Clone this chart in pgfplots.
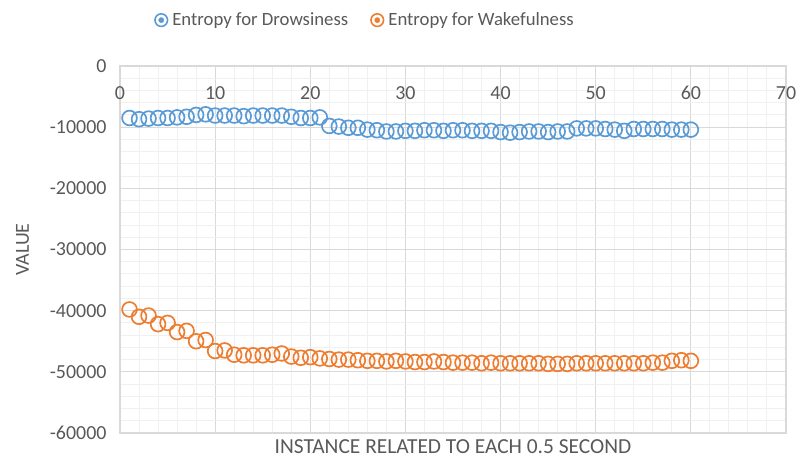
\documentclass[border=0pt]{standalone}
\usepackage{fontspec}
\setmainfont{Carlito}
\usepackage{pgfplots}
\pgfplotsset{compat=1.18}
\definecolor{cblue}{HTML}{5B9BD5}
\definecolor{corange}{HTML}{ED7D31}
\definecolor{txt}{HTML}{595959}
\definecolor{gmaj}{HTML}{D9D9D9}
\definecolor{gmin}{HTML}{F0F0F0}
\begin{document}
\begin{tikzpicture}
\path[use as bounding box] (-120bp,-31bp) rectangle (678bp,433bp);
\begin{axis}[
 at={(0,0)}, anchor=south west,
 scale only axis, width=666bp, height=367bp,
 xmin=0, xmax=70, ymin=-60000, ymax=0,
 xtick={0,10,...,70}, ytick={-60000,-50000,...,0},
 minor x tick num=4, minor y tick num=4,
 grid=both,
 major grid style={gmaj, line width=1.2bp},
 minor grid style={gmin, line width=1bp},
 axis line style={gmaj, line width=1.2bp},
 major tick length=0pt, minor tick length=0pt,
 tick label style={font=\fontsize{20}{24}\selectfont, text=txt},
 /pgf/number format/assume math mode=true,
 /pgf/number format/set thousands separator={},
 scaled y ticks=false,
 xticklabel pos=upper,
 xticklabel style={anchor=north, yshift=-17bp},
 yticklabel style={xshift=-10bp},
 xlabel={INSTANCE RELATED TO EACH 0.5 SECOND},
 xlabel style={at={(axis description cs:0.5,0)}, anchor=north, yshift=-3bp, font=\fontsize{21.5}{25}\selectfont, text=txt},
 ylabel={VALUE},
 ylabel shift=14bp,
 ylabel style={font=\fontsize{20}{24}\selectfont, text=txt},
 legend style={at={(0.051,1.125)}, anchor=west, draw=none, fill=none,
   legend columns=2, font=\fontsize{18.8}{22}\selectfont, text=txt,
   /tikz/every even column/.append style={column sep=20bp},
   inner sep=0pt},
 legend image code/.code={\draw[#1, line width=1.6bp, fill=none] (6bp,0bp) circle (6.3bp); \fill[#1] (6bp,0bp) circle (2.6bp);},
]
\addplot[only marks, mark=o, color=cblue, mark size=7.4bp, mark options={line width=1.7bp}] coordinates {
(1,-8500) (2,-8700) (3,-8600) (4,-8500) (5,-8500) (6,-8400) (7,-8300) (8,-8000) (9,-7900) (10,-8100)
(11,-8100) (12,-8100) (13,-8200) (14,-8100) (15,-8100) (16,-8100) (17,-8100) (18,-8300) (19,-8500) (20,-8500)
(21,-8400) (22,-9800) (23,-9900) (24,-10100) (25,-10100) (26,-10400) (27,-10500) (28,-10700) (29,-10700) (30,-10600)
(31,-10600) (32,-10500) (33,-10500) (34,-10600) (35,-10500) (36,-10500) (37,-10600) (38,-10600) (39,-10600) (40,-10800)
(41,-10900) (42,-10800) (43,-10700) (44,-10700) (45,-10800) (46,-10700) (47,-10700) (48,-10200) (49,-10200) (50,-10200)
(51,-10300) (52,-10400) (53,-10600) (54,-10300) (55,-10300) (56,-10300) (57,-10300) (58,-10400) (59,-10400) (60,-10400)
};
\addlegendentry{\hspace{2bp}Entropy for Drowsiness}
\addplot[only marks, mark=o, color=corange, mark size=7.4bp, mark options={line width=1.7bp}] coordinates {
(1,-39800) (2,-41000) (3,-40800) (4,-42200) (5,-42000) (6,-43500) (7,-43300) (8,-45000) (9,-44800) (10,-46600)
(11,-46500) (12,-47200) (13,-47300) (14,-47300) (15,-47300) (16,-47200) (17,-47000) (18,-47500) (19,-47700) (20,-47600)
(21,-47800) (22,-47900) (23,-48000) (24,-48000) (25,-48100) (26,-48200) (27,-48200) (28,-48300) (29,-48200) (30,-48300)
(31,-48400) (32,-48400) (33,-48300) (34,-48400) (35,-48500) (36,-48500) (37,-48500) (38,-48600) (39,-48500) (40,-48600)
(41,-48600) (42,-48600) (43,-48600) (44,-48600) (45,-48700) (46,-48700) (47,-48700) (48,-48600) (49,-48600) (50,-48600)
(51,-48600) (52,-48600) (53,-48600) (54,-48600) (55,-48600) (56,-48500) (57,-48500) (58,-48200) (59,-48100) (60,-48200)
};
\addlegendentry{\hspace{2bp}Entropy for Wakefulness}
\end{axis}
\end{tikzpicture}
\end{document}
